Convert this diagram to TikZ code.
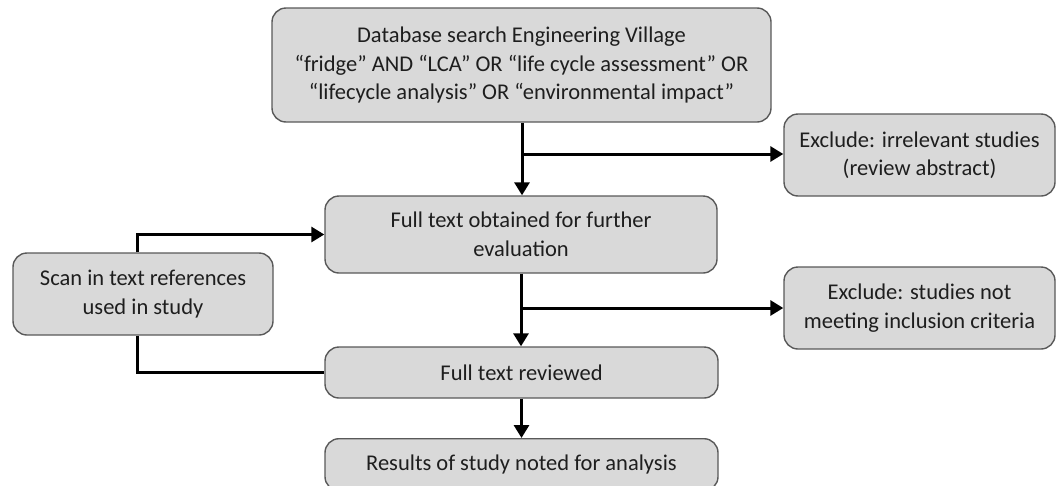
\documentclass[tikz,border=0pt]{standalone}
\usepackage{fontspec}
\setmainfont{Carlito}
\usetikzlibrary{arrows.meta}
\definecolor{boxfill}{HTML}{D9D9D9}
\definecolor{boxline}{HTML}{595959}
\definecolor{txt}{HTML}{1E1E1E}
\begin{document}
\begin{tikzpicture}[x=1pt,y=-1pt,
  flowbox/.style={draw=boxline,line width=1.4pt,fill=boxfill,rounded corners=14pt,
    inner sep=0pt,align=center,text=txt,font=\fontsize{22.5}{28.5}\selectfont},
  conn/.style={line width=3pt,black},
  tip/.style={-{Triangle[length=13pt,width=15pt]}}]
\useasboundingbox (0,0) rectangle (1057,485);
\node[flowbox,minimum width=499pt,minimum height=114pt] (top) at (521.5,65)
  {Database search Engineering Village\\ “fridge” AND “LCA” OR “life cycle assessment” OR\\ “lifecycle analysis” OR “environmental impact”};
\node[flowbox,minimum width=271pt,minimum height=82pt] (exc1) at (919.5,155)
  {Exclude: irrelevant studies\\ (review abstract)};
\node[flowbox,minimum width=392pt,minimum height=77pt] (box2) at (521,234.5)
  {Full text obtained for further\\ evaluation};
\node[flowbox,minimum width=271pt,minimum height=82pt] (exc2) at (919.5,308)
  {Exclude: studies not\\ meeting inclusion criteria};
\node[flowbox,minimum width=260pt,minimum height=82pt] (scan) at (143,294)
  {Scan in text references\\ used in study};
\node[flowbox,minimum width=393pt,minimum height=51pt] (box3) at (521.5,372.5)
  {Full text reviewed};
\node[flowbox,minimum width=393pt,minimum height=52pt,anchor=north] (box4) at (521.5,438)
  {Results of study noted for analysis};
\coordinate (j1) at (522,154);
\coordinate (j2) at (521,308);
\coordinate (s1) at (137,0);
\draw[conn,tip] (top.south -| j1) -- (box2.north -| j1);
\draw[conn,tip] (j1) -- (exc1.west |- j1);
\draw[conn,tip] (box2.south -| j2) -- (box3.north -| j2);
\draw[conn,tip] (j2) -- (exc2.west |- j2);
\draw[conn,tip] (box3.south) -- (box4.north);
\draw[conn,tip] (scan.north -| s1) |- (box2.west);
\draw[conn] (scan.south -| s1) |- (box3.west);
\end{tikzpicture}
\end{document}
